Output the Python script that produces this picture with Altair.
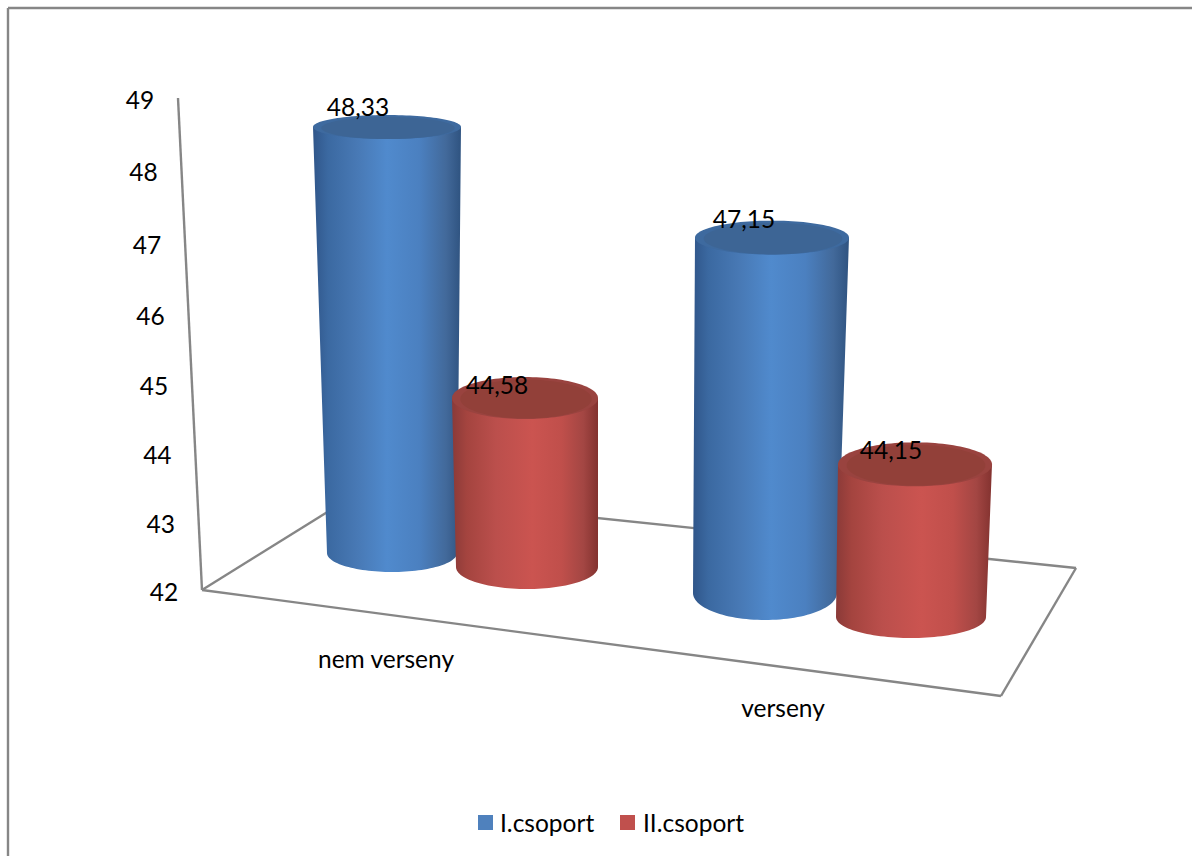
import math
import altair as alt
import pandas as pd

categories = ["nem verseny", "verseny"]
series_names = ["I.csoport", "II.csoport"]
group_one = [48.33, 47.15]
group_two = [44.58, 44.15]
axis_ticks = [42, 43, 44, 45, 46, 47, 48, 49]

BASE_VALUE = 42
GREY = "#868686"
FONT = "Lato"
FONT_SIZE = 24.5

BLUE_STOPS = [(0, "#30568a"), (0.1, "#3b69a1"), (0.3, "#4879b5"), (0.5, "#508acd"),
              (0.72, "#4b80c0"), (0.9, "#42699a"), (1, "#2f5380")]
RED_STOPS = [(0, "#8a3a38"), (0.1, "#a4443f"), (0.3, "#bb4f4c"), (0.55, "#cb5450"),
             (0.75, "#c04f4b"), (0.9, "#a34643"), (1, "#83322f")]

# Oblique view of each column: base centre, base radii, pixels per unit, top centre shift and top radii.
VIEWS = {
    (0, 0): dict(cx=392, cy=553, rx=65, ry=19, unit=67.3, dx=-5, top_rx=74, top_ry=12, lx=-29, ly=-19),
    (0, 1): dict(cx=527, cy=567, rx=71, ry=22, unit=65.5, dx=-2, top_rx=73, top_ry=21, lx=-28, ly=-13),
    (1, 0): dict(cx=765, cy=593, rx=72, ry=27, unit=69.0, dx=7, top_rx=77, top_ry=17, lx=-28, ly=-18),
    (1, 1): dict(cx=911, cy=617, rx=75, ry=21, unit=71.0, dx=4, top_rx=77, top_ry=22, lx=-24, ly=-14),
}


def wall_fraction(value):
    t = (value - BASE_VALUE) / (axis_ticks[-1] - BASE_VALUE)
    return t / (1 + 0.045 * (1 - t))


def ellipse_rows(cx, cy, rx, ry, steps=60):
    rows = []
    for i in range(steps + 1):
        a = math.pi * i / steps
        s = math.sin(a)
        rows.append({"y": cy - ry * math.cos(a), "x": cx - rx * s, "x2": cx + rx * s})
    return rows


def body_rows(view, top_y):
    top_cx = view["cx"] + view["dx"]
    rows = []
    for i in range(41):
        f = i / 40
        rows.append({
            "y": top_y + (view["cy"] - top_y) * f,
            "x": top_cx - view["top_rx"] + (view["cx"] - view["rx"] - top_cx + view["top_rx"]) * f,
            "x2": top_cx + view["top_rx"] + (view["cx"] + view["rx"] - top_cx - view["top_rx"]) * f,
        })
    for row in ellipse_rows(view["cx"], view["cy"], view["rx"], view["ry"]):
        if row["y"] > view["cy"]:
            rows.append(row)
    return rows


x_scale = alt.Scale(domain=[0, 1192], range=[0, 1192], nice=False, zero=False)
y_scale = alt.Scale(domain=[0, 856], range=[0, 856], nice=False, zero=False)
X = alt.X("x:Q", scale=x_scale, axis=None)
Y = alt.Y("y:Q", scale=y_scale, axis=None)


def gradient(stops):
    return alt.LinearGradient(
        gradient="linear", x1=0, x2=1, y1=0, y2=0,
        stops=[alt.GradientStop(offset=o, color=c) for o, c in stops],
    )


def area(rows, color):
    return alt.Chart(pd.DataFrame(rows)).mark_area(orient="horizontal", color=color).encode(
        y=Y, x=X, x2="x2:Q"
    )


def edges(points):
    rows = [{"x": a[0], "y": a[1], "x2": b[0], "y2": b[1]} for a, b in points]
    return alt.Chart(pd.DataFrame(rows)).mark_rule(color=GREY, strokeWidth=2.4).encode(
        x=X, y=Y, x2="x2:Q", y2="y2:Q"
    )


def text_layer(rows, **kw):
    return alt.Chart(pd.DataFrame(rows)).mark_text(
        font=FONT, fontSize=FONT_SIZE, color="#000000", dy=1.5, **kw
    ).encode(x=X, y=Y, text="label:N")


# Outer frame: only its top and left edges fall on the canvas
frame = edges([((8, 8), (1192, 8)), ((8, 8), (8, 856))])

# Floor and the left edge of the back wall
floor_left, floor_back, floor_right, floor_front = (202, 590), (358, 493), (1076, 568), (1001, 696)
wall_top = (178, 98)
box = edges([
    (floor_left, floor_back), (floor_back, floor_right), (floor_right, floor_front),
    (floor_front, floor_left), (wall_top, floor_left),
])

# Value axis labels follow the wall edge
tick_rows = []
for tick in axis_ticks:
    f = wall_fraction(tick)
    tick_rows.append({
        "x": floor_left[0] + (wall_top[0] - floor_left[0]) * f - 38,
        "y": floor_left[1] + 2 + (wall_top[1] - floor_left[1]) * f,
        "label": str(tick),
    })
ticks = text_layer(tick_rows, align="center", baseline="middle")

# Cylinders, back to front within each category
layers = [frame, box, ticks]
value_labels = []
for c in range(len(categories)):
    for s, (values, stops, top_outer, top_inner) in enumerate([
        (group_one, BLUE_STOPS, "#3e6a9f", "#3d6595"),
        (group_two, RED_STOPS, "#99433f", "#924039"),
    ]):
        view = VIEWS[(c, s)]
        value = values[c]
        top_y = view["cy"] - (value - BASE_VALUE) * view["unit"]
        top_cx = view["cx"] + view["dx"]
        layers.append(area(body_rows(view, top_y), gradient(stops)))
        layers.append(area(ellipse_rows(top_cx, top_y, view["top_rx"], view["top_ry"]), top_outer))
        layers.append(area(ellipse_rows(top_cx + 1, top_y + 1, view["top_rx"] * 0.9, view["top_ry"] * 0.92), top_inner))
        value_labels.append({
            "x": top_cx + view["lx"],
            "y": top_y + view["ly"],
            "label": f"{value:.2f}".replace(".", ","),
        })
layers.append(text_layer(value_labels, align="center", baseline="middle"))

# Category labels
layers.append(text_layer(
    [{"x": 386, "y": 659, "label": categories[0]}, {"x": 783, "y": 708, "label": categories[1]}],
    align="center", baseline="middle",
))

# Legend along the bottom
swatches = pd.DataFrame([
    {"x": 485.5, "y": 822.5, "name": series_names[0]},
    {"x": 627.5, "y": 822.5, "name": series_names[1]},
])
layers.append(alt.Chart(swatches).mark_square(size=225, opacity=1).encode(
    x=X, y=Y,
    color=alt.Color("name:N", scale=alt.Scale(domain=series_names, range=["#4F81BD", "#C0504D"]), legend=None),
))
layers.append(text_layer(
    [{"x": 500, "y": 823, "label": series_names[0]}, {"x": 643, "y": 823, "label": series_names[1]}],
    align="left", baseline="middle",
))

chart = alt.layer(*layers).properties(
    width=1192, height=856, padding=0,
    autosize=alt.AutoSizeParams(type="none"), background="white",
).configure_view(stroke=None)

chart.save("out.html", embed_options={"renderer": "svg", "actions": False})
